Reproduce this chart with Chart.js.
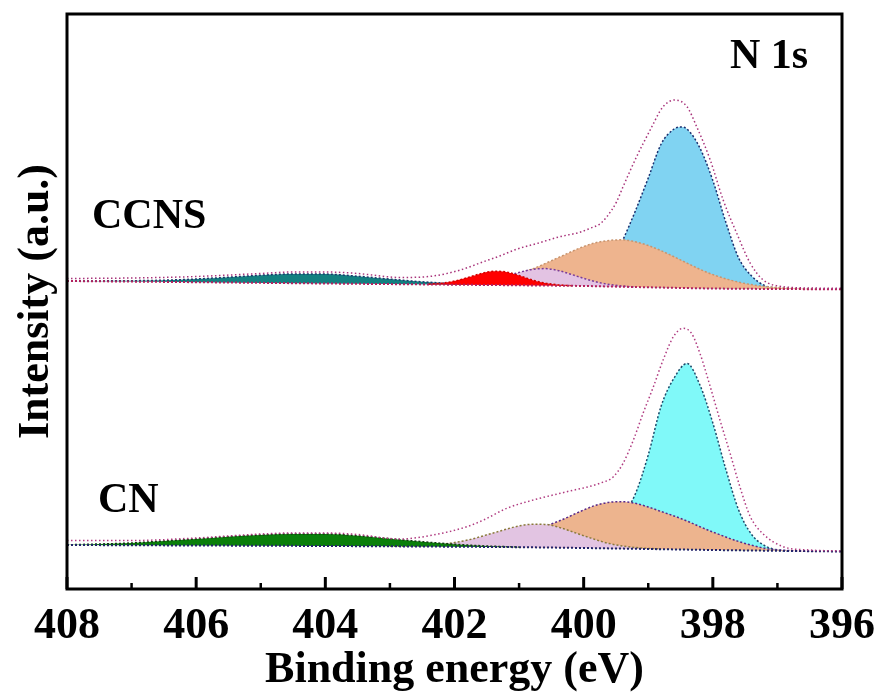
<!DOCTYPE html>
<html>
<head>
<meta charset="utf-8">
<script src="https://cdn.jsdelivr.net/npm/chart.js@4.4.1/dist/chart.umd.min.js"></script>
<style>
  html, body { margin: 0; padding: 0; background: #ffffff; }
  canvas { display: block; }
</style>
</head>
<body>
<canvas id="c" width="881" height="697"></canvas>
<script>
// ---- tick labels ----
const tickValues = [408, 406, 404, 402, 400, 398, 396];
const minorTickValues = [407, 405, 403, 401, 399, 397];

// ---- CCNS spectrum (binding energy, intensity a.u.) ----
const ccnsBaseE = [408, 406, 404, 402, 401, 400, 399, 398, 397, 396];
const ccnsBase  = [308, 306.8, 305.5, 304.3, 303.7, 303, 301.7, 300.5, 300, 299.7];

const ccnsEnvE = [408, 407, 406, 405, 404.5, 404, 403.5, 403, 402.84, 402.33, 401.91, 401.55, 401.3, 401.04, 400.68, 400.37, 400.06, 399.9, 399.75, 399.64, 399.49, 399.39, 399.18, 398.97, 398.77, 398.59, 398.4, 398.25, 398.04, 397.84, 397.63, 397.42, 397.22, 396.91, 396.5, 396];
const ccnsEnv  = [310.5, 311, 312.5, 315.5, 317, 317, 315.5, 312, 311.5, 313, 319, 327.3, 333, 339.7, 346.3, 352.3, 356.7, 360.7, 365, 372.3, 387.3, 402.3, 432.3, 459, 482.3, 489, 482.3, 462.3, 429, 389, 355.7, 325.7, 309, 302.3, 301, 300.7];

const ccnsBlueE = [400.2, 400, 399.8, 399.6, 399.4, 399.2, 399, 398.8, 398.6, 398.5, 398.4, 398.2, 398, 397.8, 397.6, 397.4, 397.2, 397, 396.8];
const ccnsBlue  = [303.5, 306, 310.6, 322, 348, 378, 411, 445, 460, 462, 460, 441, 408.5, 367, 331, 313, 303.5, 301, 300.2];

const ccnsOrangeE = [402.0, 401.6, 401.2, 400.8, 400.4, 400.0, 399.8, 399.6, 399.4, 399.2, 399.0, 398.8, 398.6, 398.4, 398.2, 398.0, 397.6, 397.2, 396.8, 396.4];
const ccnsOrange  = [304.8, 307.2, 311.8, 319.9, 331.2, 342.5, 346.5, 348.6, 349.2, 347.2, 343.5, 338.3, 332.2, 325.9, 319.7, 314.4, 306.8, 302.6, 300.8, 299.8];

const ccnsPinkE = [401.8, 401.6, 401.4, 401.2, 401.0, 400.8, 400.6, 400.4, 400.2, 400.0, 399.8, 399.6, 399.4, 399.2];
const ccnsPink  = [305.3, 306.6, 309.1, 312.7, 316.6, 319.5, 320.4, 318.6, 314.8, 310.7, 307, 304.5, 303, 301.9];

const ccnsRedE = [402.4, 402.2, 402.0, 401.8, 401.6, 401.4, 401.2, 401.0, 400.8, 400.6, 400.4, 400.2];
const ccnsRed  = [305, 305.8, 307.9, 311.4, 315.3, 317.7, 317, 313.5, 309.1, 305.9, 304.2, 303.3];

const ccnsTealE = [408, 407.5, 407, 406.5, 406, 405.5, 405, 404.5, 404, 403.5, 403, 402.5, 402, 401.5];
const ccnsTeal  = [308, 308.1, 308.3, 308.8, 310, 311.8, 313.8, 315, 314.9, 312.8, 309.9, 307.2, 305.3, 304.3];

// ---- CN spectrum ----
const cnBaseE = [408, 406, 404, 402, 401, 400, 399, 398, 397, 396];
const cnBase  = [44, 43.5, 43, 42.3, 41.8, 41, 40, 39, 38.2, 37.5];

const cnEnvE = [408, 407, 406, 405, 404.5, 404, 403.5, 403, 402.84, 402.33, 401.81, 401.55, 401.19, 400.78, 400.26, 399.75, 399.54, 399.39, 399.23, 399.08, 398.92, 398.77, 398.61, 398.46, 398.33, 398.2, 398.04, 397.89, 397.73, 397.58, 397.42, 397.22, 396.91, 396.5, 396];
const cnEnv  = [48.5, 48.5, 51, 55, 56, 56, 54.5, 50.5, 50, 54, 62.3, 69, 80.7, 89, 97.3, 105.7, 112.3, 125.7, 149, 175.7, 202.3, 229, 252.3, 260.7, 255.7, 235.7, 202.3, 169, 135, 102, 72.3, 55, 42.3, 39, 38];

const cnCyanE = [400.0, 399.8, 399.6, 399.4, 399.2, 399.0, 398.8, 398.6, 398.4, 398.2, 398.0, 397.8, 397.6, 397.4, 397.2, 397.0, 396.8];
const cnCyan  = [43, 45.8, 54.6, 72.4, 95, 134, 183, 211, 225.5, 204, 166, 120, 79, 54.5, 43.5, 39, 37.8];

const cnOrangeE = [402.0, 401.6, 401.2, 400.8, 400.4, 400.0, 399.8, 399.6, 399.4, 399.2, 399.0, 398.8, 398.6, 398.4, 398.2, 398.0, 397.6, 397.2, 396.8, 396.4];
const cnOrange  = [43, 45, 49.8, 58.5, 67.5, 79, 84, 86.7, 87.3, 85.7, 82, 77.5, 73, 68, 62.3, 57, 47.5, 40.8, 38.4, 37.6];

const cnPinkE = [403.0, 402.6, 402.2, 401.8, 401.4, 401.0, 400.8, 400.6, 400.4, 400.0, 399.6, 399.2, 398.8];
const cnPink  = [42.8, 43.1, 44.7, 48.9, 56, 63.1, 64.7, 64.6, 62, 53.3, 45.4, 41.5, 40];

const cnGreenE = [408, 407.5, 407, 406.5, 406, 405.5, 405, 404.5, 404, 403.5, 403, 402.5, 402, 401.5, 401];
const cnGreen  = [44.2, 45, 46, 48, 50, 52.3, 54, 55, 55, 53.2, 50.3, 47.3, 44.8, 43, 42];

// ---- helpers ----
const pts = (xs, ys) => xs.map((x, i) => ({x: x, y: ys[i]}));
const FONT = "'Liberation Serif', 'Times New Roman', serif";

function comp(data, fillColor, lineColor, order, target) {
  return {
    data: data,
    backgroundColor: fillColor,
    borderColor: lineColor,
    borderWidth: 1.5,
    borderDash: [2, 2],
    fill: {target: target},
    order: order
  };
}

const datasets = [
  // 0: CCNS background
  { data: pts(ccnsBaseE, ccnsBase), borderColor: '#b3205e', borderWidth: 2, borderDash: [2, 2], fill: false, order: 1 },
  // 1: CN background
  { data: pts(cnBaseE, cnBase), borderColor: '#22226a', borderWidth: 2, borderDash: [2, 2], fill: false, order: 1 },
  // CCNS components
  comp(pts(ccnsBlueE, ccnsBlue), '#80d3f2', '#1b2f6e', 7, 0),
  comp(pts(ccnsOrangeE, ccnsOrange), '#eeb48e', '#c8946e', 6, 0),
  comp(pts(ccnsTealE, ccnsTeal), '#137f80', '#1a3a6a', 5, 0),
  comp(pts(ccnsPinkE, ccnsPink), '#e3c3e3', '#7a3b9a', 4, 0),
  comp(pts(ccnsRedE, ccnsRed), '#ff0000', '#d00000', 3, 0),
  // CN components
  comp(pts(cnCyanE, cnCyan), '#80f9f9', '#1e4a6a', 7, 1),
  comp(pts(cnOrangeE, cnOrange), '#edb48e', '#5a2a8a', 6, 1),
  comp(pts(cnPinkE, cnPink), '#e2c4e2', '#8a7a3a', 5, 1),
  comp(pts(cnGreenE, cnGreen), '#0a7f0a', '#103a10', 4, 1),
  // envelopes
  { data: pts(ccnsEnvE, ccnsEnv), borderColor: '#a8337a', borderWidth: 1.5, borderDash: [1.5, 2.5], fill: false, order: 0 },
  { data: pts(cnEnvE, cnEnv), borderColor: '#b03b80', borderWidth: 1.5, borderDash: [1.5, 2.5], fill: false, order: 0 }
];

const framePlugin = {
  id: 'frameTicks',
  afterDatasetsDraw(chart) {
    const {ctx, chartArea: a, scales: {x}} = chart;
    ctx.save();
    ctx.strokeStyle = '#000';
    ctx.lineWidth = 3;
    ctx.strokeRect(a.left, a.top, a.right - a.left, a.bottom - a.top);
    ctx.lineWidth = 3;
    tickValues.forEach(v => {
      const px = x.getPixelForValue(v);
      ctx.beginPath(); ctx.moveTo(px, a.bottom); ctx.lineTo(px, a.bottom - 12); ctx.stroke();
    });
    ctx.lineWidth = 2.5;
    minorTickValues.forEach(v => {
      const px = x.getPixelForValue(v);
      ctx.beginPath(); ctx.moveTo(px, a.bottom); ctx.lineTo(px, a.bottom - 6); ctx.stroke();
    });
    // annotations
    ctx.fillStyle = '#000';
    ctx.textBaseline = 'alphabetic';
    ctx.textAlign = 'left';
    ctx.font = 'bold 42px ' + FONT;
    ctx.fillText('CCNS', a.left + 25, a.top + 214);
    ctx.fillText('CN', a.left + 31, a.top + 498);
    ctx.font = 'bold 42px ' + FONT;
    ctx.fillText('N 1s', a.left + 663, a.top + 54);
    ctx.restore();
  }
};

new Chart(document.getElementById('c'), {
  type: 'line',
  data: { datasets: datasets },
  options: {
    responsive: false,
    animation: false,
    devicePixelRatio: 1,
    layout: { padding: { top: 14, right: 39, left: 0, bottom: 0 } },
    elements: {
      point: { radius: 0, hoverRadius: 0 },
      line: { cubicInterpolationMode: 'monotone' }
    },
    plugins: {
      legend: { display: false },
      tooltip: { enabled: false }
    },
    scales: {
      x: {
        type: 'linear',
        reverse: true,
        min: 396,
        max: 408,
        afterBuildTicks(scale) { scale.ticks = tickValues.map(v => ({value: v})); },
        afterFit(scale) { scale.height = 108; scale.paddingLeft = 0; scale.paddingRight = 0; },
        grid: { display: false },
        border: { display: false },
        ticks: {
          maxRotation: 0,
          autoSkip: false,
          padding: 3,
          color: '#000',
          font: { family: FONT, size: 44, weight: 'bold' },
          callback: (v) => String(v)
        },
        title: {
          display: true,
          text: 'Binding energy (eV)',
          color: '#000',
          padding: { top: 0, bottom: 0 },
          font: { family: FONT, size: 44, weight: 'bold' }
        }
      },
      y: {
        type: 'linear',
        min: 0,
        max: 575,
        afterFit(scale) { scale.width = 67; },
        grid: { display: false },
        border: { display: false },
        ticks: { display: false },
        title: {
          display: true,
          text: 'Intensity (a.u.)',
          color: '#000',
          padding: { top: 10, bottom: 0 },
          font: { family: FONT, size: 44, weight: 'bold' }
        }
      }
    }
  },
  plugins: [framePlugin]
});
</script>
</body>
</html>
